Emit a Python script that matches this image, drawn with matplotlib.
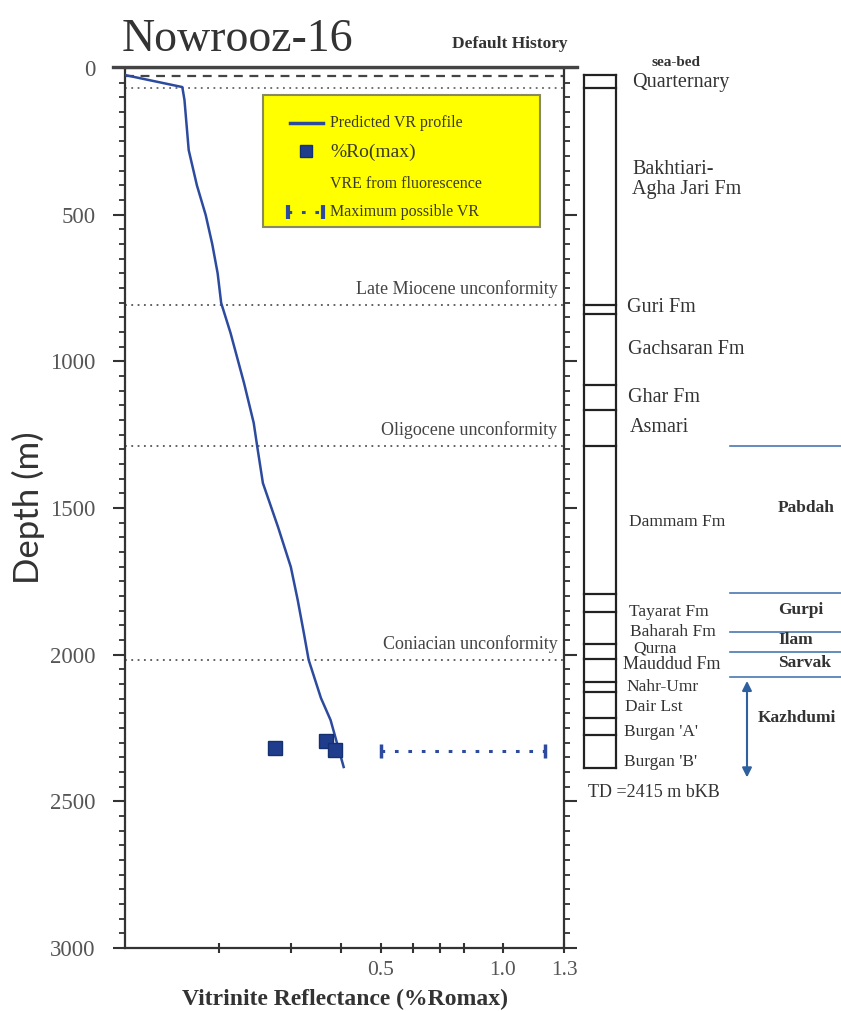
import numpy as np
import matplotlib
matplotlib.use("Agg")
import matplotlib.pyplot as plt
from matplotlib.lines import Line2D
from matplotlib.patches import Rectangle, FancyArrowPatch
from matplotlib.ticker import FixedLocator, MultipleLocator, NullFormatter

SERIF = "Liberation Serif"

# ---------------- data ----------------
vr_depth = [24, 65, 109, 280, 400, 501, 600, 700, 801, 903, 1074, 1210, 1292, 1415, 1565,
            1701, 1814, 1926, 2018, 2148, 2223, 2383]
vr_value = [0.117, 0.162, 0.164, 0.168, 0.176, 0.185, 0.192, 0.198, 0.202, 0.213, 0.230,
            0.243, 0.248, 0.256, 0.279, 0.300, 0.312, 0.323, 0.332, 0.356, 0.376, 0.405]

ro_value = [0.274, 0.366, 0.385]
ro_depth = [2318, 2295, 2325]

maxvr_value = [0.5, 1.2]
maxvr_depth = [2329, 2329]

seabed_depth = 27
quat_depth = 68
unconf_names = ["Late Miocene unconformity", "Oligocene unconformity", "Coniacian unconformity"]
unconf_depth = [808, 1289, 2018]

strat_bounds = [24, 67, 808, 839, 1081, 1166, 1289, 1793, 1855, 1964, 2015, 2093,
                2128, 2216, 2274, 2387]
fm_names = ["Quarternary", "Bakhtiari-\nAgha Jari Fm", "Guri Fm", "Gachsaran Fm", "Ghar Fm",
            "Asmari", "Dammam Fm", "Tayarat Fm", "Baharah Fm", "Qurna", "Mauddud Fm",
            "Nahr-Umr", "Dair Lst", "Burgan 'A'", "Burgan 'B'"]
fm_label_depth = [51, 380, 818, 961, 1125, 1227, 1548, 1855, 1923, 1978, 2035, 2110,
                  2179, 2264, 2366]
fm_label_x = [632, 632, 627, 628, 628, 630, 629, 629, 630, 633, 623, 626, 625, 624, 624]
fm_label_size = [14.5, 14.5, 14.5, 14.5, 14.5, 14.5, 12.5, 12.5, 12.5, 12.5, 13, 12.5,
                 12.5, 12.5, 12.5]

group_names = ["Pabdah", "Gurpi", "Ilam", "Sarvak", "Kazhdumi"]
group_label_depth = [1500, 1848, 1950, 2030, 2216]
group_bounds = [1289, 1791, 1923, 1991, 2076]
kazhdumi_arrow = [2080, 2428]
td_depth = 2415

xticks_major = [0.5, 1.0, 1.3]
xticks_minor = [0.2, 0.3, 0.4, 0.6, 0.7, 0.8]

# ---------------- scale ----------------
C = 0.283
_grid = np.linspace(1.0, 6.0, 5001)


def fwd(x):
    x = np.clip(np.asarray(x, dtype=float), 1e-6, None)
    return np.log(x) + C * np.clip(x - 1.0, 0, None)


_gf = fwd(_grid)


def inv(y):
    y = np.asarray(y, dtype=float)
    return np.where(y <= 0, np.exp(np.minimum(y, 0)), np.interp(y, _gf, _grid))


W, H = 841, 1011
fig = plt.figure(figsize=(W / 100, H / 100), dpi=100)

L, R, T, B = 125, 564, 68, 948
ax = fig.add_axes([L / W, 1 - B / H, (R - L) / W, (B - T) / H])
ax.set_xscale("function", functions=(fwd, inv))
ax.set_xlim(0.117, 1.3)
ax.set_ylim(3000, 0)

line_col = "#2c4a9e"
ax.plot(vr_value, vr_depth, color=line_col, lw=1.8, zorder=4)
ax.plot(ro_value, ro_depth, ls="none", marker="s", ms=9.5, mfc="#1f3d8c",
        mec="#15306e", zorder=5)
ax.plot(maxvr_value, maxvr_depth, ls=(0, (1.2, 3.2)), color=line_col, lw=2.2, zorder=4)
ax.plot(maxvr_value, maxvr_depth, ls="none", marker="|", ms=10, mew=2.5, color=line_col,
        zorder=4)

# horizontal markers
ax.axhline(seabed_depth, color="#444444", lw=1.6, ls=(0, (4, 3)), zorder=2)
ax.axhline(quat_depth, color="#666666", lw=1.3, ls=(0, (1, 2.5)), zorder=2)
for name, d in zip(unconf_names, unconf_depth):
    ax.axhline(d, color="#555555", lw=1.3, ls=(0, (1, 2.5)), zorder=2)
    ax.annotate(name, xy=(0.985, d), xycoords=("axes fraction", "data"),
                xytext=(0, 5), textcoords="offset points", ha="right", va="bottom",
                fontsize=13, family=SERIF, color="#444444")

# legend box (manual)
ax.add_patch(Rectangle((0.314, 0.819), 0.631, 0.150, transform=ax.transAxes,
                       facecolor="#ffff00", edgecolor="#8a8a60", lw=1.5, zorder=6))
tx = 0.468
leg_col = "#3a3a28"
ax.plot([0.375, 0.450], [0.9375, 0.9375], transform=ax.transAxes, color=line_col, lw=2.5, zorder=7)
ax.text(tx, 0.9375, "Predicted VR profile", transform=ax.transAxes, va="center",
        fontsize=11.5, family=SERIF, color=leg_col, zorder=7)
ax.plot([0.412], [0.906], transform=ax.transAxes, marker="s", ms=8, mfc="#1f3d8c",
        mec="#15306e", zorder=7)
ax.text(tx, 0.904, "%Ro(max)", transform=ax.transAxes, va="center",
        fontsize=14, family=SERIF, color=leg_col, zorder=7)
ax.text(tx, 0.8685, "VRE from fluorescence", transform=ax.transAxes, va="center",
        fontsize=11.5, family=SERIF, color=leg_col, zorder=7)
ax.plot([0.372, 0.450], [0.836, 0.836], transform=ax.transAxes, color=line_col, lw=2.2,
        ls=(0, (1.2, 3.2)), zorder=7)
ax.plot([0.372, 0.450], [0.836, 0.836], transform=ax.transAxes, ls="none", marker="|",
        ms=10, mew=3, color=line_col, zorder=7)
ax.text(tx, 0.836, "Maximum possible VR", transform=ax.transAxes, va="center",
        fontsize=11.5, family=SERIF, color=leg_col, zorder=7)

# axes styling
for s in ax.spines.values():
    s.set_color("#333333")
    s.set_linewidth(1.6)
ax.xaxis.set_major_locator(FixedLocator(xticks_major))
ax.xaxis.set_minor_locator(FixedLocator(xticks_minor))
ax.set_xticklabels(["0.5", "1.0", "1.3"])
ax.xaxis.set_minor_formatter(NullFormatter())
ax.tick_params(axis="x", which="both", direction="inout", length=7, width=1.5,
               colors="#333333", labelcolor="#555555", labelsize=15.5, pad=6)
ax.yaxis.set_major_locator(MultipleLocator(500))
ax.yaxis.set_minor_locator(MultipleLocator(50))
ax.tick_params(axis="y", which="major", direction="out", length=9, width=1.5,
               colors="#333333", labelcolor="#555555", labelsize=16.5, right=True, pad=12)
ax.tick_params(axis="y", which="minor", direction="out", length=4.5, width=1.3,
               colors="#333333", right=True)
for lab in ax.get_xticklabels() + ax.get_yticklabels():
    lab.set_family(SERIF)

ax.set_xlabel("Vitrinite Reflectance (%Romax)", family=SERIF, fontsize=17,
              fontweight="bold", color="#333333", labelpad=6)
ax.set_ylabel("Depth (m)", family="Lato", fontsize=25, color="#333333", labelpad=4)

# title and top rule
fig.text(122 / W, 1 - 40 / H, "Nowrooz-16", family=SERIF, fontsize=33, color="#333333",
         va="center", ha="left")
fig.text(568 / W, 1 - 44 / H, "Default History", family=SERIF, fontsize=12.5,
         fontweight="bold", color="#333333", va="center", ha="right")
fig.add_artist(Line2D([113 / W, 577 / W], [1 - 67 / H, 1 - 67 / H], color="#444444", lw=2.4))

# ---------------- stratigraphic column ----------------
ax2 = fig.add_axes([575 / W, 1 - B / H, (W - 575) / W, (B - T) / H])
ax2.set_xlim(575, W)
ax2.set_ylim(3000, 0)
ax2.axis("off")
bx0, bx1 = 584, 616
ax2.plot([bx0, bx0], [strat_bounds[0], strat_bounds[-1]], color="#222222", lw=1.6)
ax2.plot([bx1, bx1], [strat_bounds[0], strat_bounds[-1]], color="#222222", lw=1.6)
for d in strat_bounds:
    ax2.plot([bx0, bx1], [d, d], color="#222222", lw=1.6)
for name, d, x, fs in zip(fm_names, fm_label_depth, fm_label_x, fm_label_size):
    ax2.text(x, d, name, family=SERIF, fontsize=fs, color="#333333", va="center",
             ha="left", linespacing=1.05)
ax2.text(676, -20, "sea-bed", family=SERIF, fontsize=11, fontweight="bold",
         color="#333333", ha="center", va="center", clip_on=False)
ax2.text(588, 2469, "TD =%d m bKB" % td_depth, family=SERIF, fontsize=13,
         color="#333333", ha="left", va="center")

grp_col = "#4a78b0"
for d in group_bounds:
    ax2.plot([730, W], [d, d], color=grp_col, lw=1.2)
for name, d in zip(group_names, group_label_depth):
    ax2.text(778 if name != "Kazhdumi" else 758, d, name, family=SERIF, fontsize=12.5,
             fontweight="bold", color="#333333", ha="left", va="center")
ax2.add_patch(FancyArrowPatch((747, kazhdumi_arrow[0]), (747, kazhdumi_arrow[1]),
                              arrowstyle="<|-|>", mutation_scale=14, color="#2e5f9e", lw=1.5))

fig.savefig("out.png", dpi=100)
